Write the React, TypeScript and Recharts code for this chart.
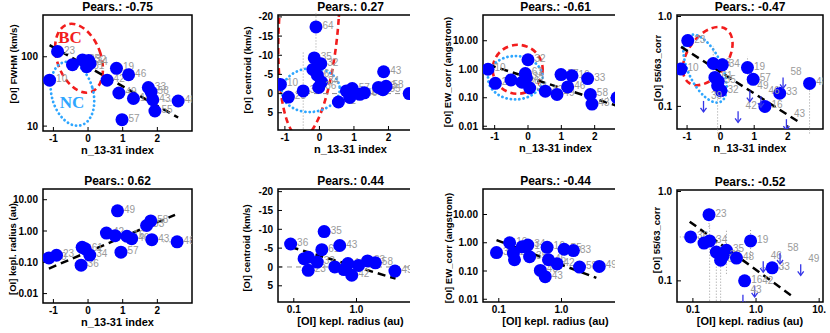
import React from 'react';
import {
  ScatterChart,
  Scatter,
  XAxis,
  YAxis,
  ReferenceArea,
  ReferenceLine,
  ErrorBar,
} from 'recharts';

const FONT = '"Liberation Sans", Arial, Helvetica, sans-serif';
const BLUE = '#0000ff';
const LABEL_GREY = '#9a9a9a';

type Pt = { id: string; x: number; y: number; ex?: number[]; ey?: number[] };
type Ell = { x1: number; x2: number; y1: number; y2: number; rot: number; kind: 'BC' | 'NC' };

// ---- data ----
const indexTicks = [-1, 0, 1, 2];
const radiusTicks = [0.1, 1, 10];
const centroidTicks = [-20, -15, -10, -5, 0, 5];
const fwhmTicks = [10, 100];
const ewTicks = [0.01, 0.1, 1, 10];
const ratioTicks = [0.1, 1];
const radiusYTicks = [0.01, 0.1, 1, 10];

const titles = ['Pears.: -0.75', 'Pears.: 0.27', 'Pears.: -0.61', 'Pears.: -0.47', 'Pears.: 0.62', 'Pears.: 0.44', 'Pears.: -0.44', 'Pears.: -0.52'];

const fwhmVsIndex: Pt[] = [
  { id: '10', x: -1.11, y: 46 },
  { id: '23', x: -0.88, y: 119 },
  { id: '', x: -0.45, y: 77 },
  { id: '35', x: -0.16, y: 90 },
  { id: '32', x: 0.02, y: 88 },
  { id: '61', x: -0.04, y: 72 },
  { id: '34', x: 0.06, y: 80 },
  { id: '42', x: 0.55, y: 46 },
  { id: '19', x: 0.82, y: 68 },
  { id: '46', x: 1.17, y: 55 },
  { id: '49', x: 0.89, y: 30 },
  { id: '16', x: 1.31, y: 25 },
  { id: '33', x: 1.74, y: 36 },
  { id: '58', x: 1.82, y: 31 },
  { id: '43', x: 1.87, y: 24 },
  { id: '55', x: 1.93, y: 16.5 },
  { id: '48', x: 2.6, y: 23, ex: [0.4, 0] },
  { id: '57', x: 0.98, y: 12.4 },
];

const centroidVsIndex: Pt[] = [
  { id: '10', x: -1.13, y: -2.4 },
  { id: '23', x: -0.9, y: 0.9 },
  { id: '39', x: -0.47, y: -0.7, ey: [10, 10] },
  { id: '64', x: -0.1, y: -17.4, ey: [3.5, 6] },
  { id: '35', x: -0.15, y: -9.3 },
  { id: '32', x: 0.04, y: -7.8 },
  { id: '', x: -0.19, y: -6.3 },
  { id: '61', x: -0.06, y: -4.8 },
  { id: '34', x: 0.06, y: -3.0 },
  { id: '36', x: -0.02, y: -1.6 },
  { id: '42', x: 0.55, y: 2.2 },
  { id: '', x: 0.78, y: -0.7 },
  { id: '57', x: 0.95, y: -1.3 },
  { id: '49', x: 0.88, y: 1.0 },
  { id: '46', x: 1.17, y: 0.2 },
  { id: '16', x: 1.3, y: -0.2 },
  { id: '33', x: 1.71, y: -1.6 },
  { id: '43', x: 1.86, y: -5.7 },
  { id: '55', x: 1.84, y: -1.0 },
  { id: '58', x: 1.93, y: -1.9 },
  { id: '48', x: 2.6, y: 0 },
];

const ewVsIndex: Pt[] = [
  { id: '10', x: -1.2, y: 1.0 },
  { id: '23', x: -0.98, y: 0.32 },
  { id: '39', x: -0.51, y: 0.42 },
  { id: '36', x: -0.18, y: 0.35 },
  { id: '61', x: -0.08, y: 0.71 },
  { id: '32', x: 0.0, y: 2.15 },
  { id: '35', x: -0.05, y: 0.5 },
  { id: '34', x: 0.05, y: 0.22 },
  { id: '42', x: 0.52, y: 0.17 },
  { id: '49', x: 0.87, y: 0.13 },
  { id: '57', x: 0.99, y: 0.65 },
  { id: '16', x: 1.32, y: 0.59 },
  { id: '46', x: 1.19, y: 0.24 },
  { id: '33', x: 1.79, y: 0.47 },
  { id: '58', x: 1.87, y: 0.13 },
  { id: '43', x: 1.92, y: 0.06 },
  { id: '48', x: 2.67, y: 0.1, ex: [0.3, 0] },
];

const ratioVsIndex: Pt[] = [
  { id: '23', x: -0.98, y: 0.54 },
  { id: '10', x: -1.18, y: 0.26 },
  { id: '36', x: -0.22, y: 0.3, ey: [0.1, 0.17] },
  { id: '34', x: 0.05, y: 0.29 },
  { id: '61', x: -0.17, y: 0.21 },
  { id: '35', x: -0.07, y: 0.19 },
  { id: '', x: -0.09, y: 0.17, ey: [0.12, 0.05] },
  { id: '32', x: 0.01, y: 0.15 },
  { id: '19', x: 0.8, y: 0.27, ey: [0.09, 0.09] },
  { id: '57', x: 0.97, y: 0.2 },
  { id: '33', x: 1.76, y: 0.14 },
  { id: '16', x: 1.32, y: 0.1 },
  { id: '48', x: 2.65, y: 0.18, ey: [0.13, 0.03] },
];
const ratioVsIndexLimits: Pt[] = [
  { id: '39', x: -0.51, y: 0.115 },
  { id: '42', x: 0.52, y: 0.088 },
  { id: '49', x: 0.87, y: 0.15 },
  { id: '46', x: 1.2, y: 0.13 },
  { id: '58', x: 1.86, y: 0.21 },
  { id: '43', x: 1.96, y: 0.072 },
];

const radiusVsIndex: Pt[] = [
  { id: '10', x: -1.13, y: 0.138 },
  { id: '23', x: -0.91, y: 0.168 },
  { id: '36', x: -0.2, y: 0.081 },
  { id: '', x: -0.17, y: 0.3 },
  { id: '61', x: -0.08, y: 0.27 },
  { id: '34', x: 0.05, y: 0.17 },
  { id: '42', x: 0.53, y: 0.86 },
  { id: '', x: 0.78, y: 0.71 },
  { id: '49', x: 0.85, y: 4.4 },
  { id: '57', x: 0.95, y: 0.21 },
  { id: '16', x: 1.12, y: 0.68 },
  { id: '46', x: 1.26, y: 0.57 },
  { id: '33', x: 1.69, y: 1.5 },
  { id: '58', x: 1.81, y: 2.1 },
  { id: '43', x: 1.84, y: 0.53 },
  { id: '48', x: 2.57, y: 0.45, ex: [0.4, 0] },
];

const centroidVsRadius: Pt[] = [
  { id: '36', x: 0.089, y: -6.1 },
  { id: '', x: 0.146, y: -2.2 },
  { id: '', x: 0.17, y: -2.6 },
  { id: '23', x: 0.17, y: 0.9 },
  { id: '32', x: 0.237, y: -1.3 },
  { id: '61', x: 0.28, y: -4.6 },
  { id: '35', x: 0.305, y: -9.4 },
  { id: '48', x: 0.45, y: 0 },
  { id: '43', x: 0.54, y: -5.7 },
  { id: '46', x: 0.63, y: 0.7 },
  { id: '16', x: 0.73, y: -0.9 },
  { id: '42', x: 0.84, y: 2.2 },
  { id: '10', x: 1.08, y: -0.4 },
  { id: '33', x: 1.5, y: -1.6 },
  { id: '58', x: 2.0, y: -1.1 },
  { id: '49', x: 4.1, y: 1.1 },
];

const ewVsRadius: Pt[] = [
  { id: '36', x: 0.092, y: 0.45 },
  { id: '10', x: 0.149, y: 1.0 },
  { id: '23', x: 0.171, y: 0.43 },
  { id: '', x: 0.178, y: 0.25 },
  { id: '61', x: 0.236, y: 0.72 },
  { id: '34', x: 0.29, y: 0.83 },
  { id: '35', x: 0.31, y: 0.32 },
  { id: '48', x: 0.46, y: 0.105 },
  { id: '43', x: 0.55, y: 0.063 },
  { id: '16', x: 0.59, y: 0.69 },
  { id: '46', x: 0.62, y: 0.25 },
  { id: '42', x: 0.85, y: 0.18 },
  { id: '55', x: 1.1, y: 0.59 },
  { id: '33', x: 1.55, y: 0.53 },
  { id: '58', x: 1.94, y: 0.138 },
  { id: '49', x: 4.0, y: 0.145 },
];

const ratioVsRadius: Pt[] = [
  { id: '23', x: 0.18, y: 0.55, ey: [0.15, 0.1] },
  { id: '36', x: 0.092, y: 0.31, ex: [0.03, 0.05] },
  { id: '', x: 0.15, y: 0.265 },
  { id: '34', x: 0.184, y: 0.28, ey: [0.22, 0.15] },
  { id: '', x: 0.235, y: 0.21, ey: [0.15, 0.1] },
  { id: '35', x: 0.34, y: 0.22, ey: [0.1, 0.15] },
  { id: '61', x: 0.275, y: 0.17, ey: [0.11, 0.08] },
  { id: '32', x: 0.3, y: 0.19 },
  { id: '48', x: 0.49, y: 0.18 },
  { id: '19', x: 0.82, y: 0.28, ey: [0.1, 0.1] },
  { id: '16', x: 0.66, y: 0.1 },
  { id: '33', x: 1.8, y: 0.14, ex: [0.6, 1.0] },
];
const ratioVsRadiusLimits: Pt[] = [
  { id: '46', x: 1.3, y: 0.166 },
  { id: '58', x: 2.4, y: 0.205 },
  { id: '49', x: 5.1, y: 0.153 },
  { id: '42', x: 0.95, y: 0.088 },
  { id: '43', x: 0.62, y: 0.07 },
];

// fit lines [x1, y1, x2, y2]
const fits: (number[] | null)[] = [
  [-1.11, 147, 2.6, 13.3],
  null,
  [-1.2, 1.45, 2.72, 0.05],
  [-1.18, 0.46, 2.36, 0.066],
  [-1.13, 0.063, 2.51, 3.3],
  [0.089, -5.3, 4.2, 3.1],
  [0.092, 1.24, 3.6, 0.057],
  [0.089, 0.46, 3.9, 0.066],
];

const ellipses: Ell[][] = [
  [
    { x1: -0.89, x2: 0.37, y1: 29, y2: 312, rot: -20, kind: 'BC' },
    { x1: -1.05, x2: 0.15, y1: 9.9, y2: 86.7, rot: -15, kind: 'NC' },
  ],
  [
    { x1: -1.16, x2: 0.56, y1: -51.6, y2: 11.6, rot: 4, kind: 'BC' },
    { x1: -1.09, x2: 0.59, y1: -6.6, y2: 4.8, rot: -5, kind: 'NC' },
  ],
  [
    { x1: -1.06, x2: 0.44, y1: 0.138, y2: 7.2, rot: 0, kind: 'BC' },
    { x1: -1.2, x2: 0.44, y1: 0.087, y2: 2.9, rot: 0, kind: 'NC' },
  ],
  [
    { x1: -0.98, x2: 0.21, y1: 0.157, y2: 0.838, rot: 35, kind: 'BC' },
    { x1: -0.965, x2: 0.035, y1: 0.103, y2: 0.673, rot: -25, kind: 'NC' },
  ],
  [], [], [], [],
];

// ---- formatting ----
const fmtPlain = (v: number) => String(v);
const fmt2 = (v: number) => v.toFixed(2);
const fmt1 = (v: number) => v.toFixed(1);
const fmtRadius = (v: number) => (v >= 10 ? '10.' : v.toFixed(1));

const IDX_DOMAIN = [-1.3, 3.0];
const RAD_DOMAIN = [0.056, 11.5];

const panels = [
  { cell: [0, 0, 205, 165], plot: [43, 15, 192, 131], data: fwhmVsIndex, xDomain: IDX_DOMAIN, xLog: false, xTicks: indexTicks, xFmt: fmtPlain,
    yDomain: [8.5, 400], yLog: true, yTicks: fwhmTicks, yFmt: fmtPlain, yTitle: '[OI] FWHM (km/s)', xTitle: 'n_13-31 index', yt: [14, 64] },
  { cell: [205, 0, 205, 165], plot: [278, 15, 423, 130], data: centroidVsIndex, xDomain: [-1.2, 3.0], xLog: false, xTicks: indexTicks, xFmt: fmtPlain,
    yDomain: [-20.5, 9.5], yLog: false, reversed: true, zero: true, yTicks: centroidTicks, yFmt: fmtPlain, yTitle: '[OI] centroid (km/s)', xTitle: 'n_13-31 index', yt: [248, 70] },
  { cell: [410, 0, 205, 165], plot: [483, 15, 628, 129], data: ewVsIndex, xDomain: [-1.35, 3.0], xLog: false, xTicks: indexTicks, xFmt: fmtPlain,
    yDomain: [0.008, 80], yLog: true, yTicks: ewTicks, yFmt: fmt2, yTitle: '[OI] EW_corr (angstrom)', xTitle: 'n_13-31 index', yt: [448, 72] },
  { cell: [615, 0, 215, 165], plot: [677, 15, 823, 129], data: ratioVsIndex, limits: ratioVsIndexLimits, xDomain: [-1.3, 3.05], xLog: false, xTicks: indexTicks, xFmt: fmtPlain,
    yDomain: [0.056, 1.04], yLog: true, yTicks: ratioTicks, yFmt: fmt1, yTitle: '[OI] 55/63_corr', xTitle: 'n_13-31 index', yt: [658, 68] },
  { cell: [0, 165, 205, 168], plot: [43, 189, 192, 303], data: radiusVsIndex, xDomain: IDX_DOMAIN, xLog: false, xTicks: indexTicks, xFmt: fmtPlain,
    yDomain: [0.005, 22], yLog: true, yTicks: radiusYTicks, yFmt: fmt2, yTitle: '[OI] kepl. radius (au)', xTitle: 'n_13-31 index', yt: [13, 249] },
  { cell: [205, 165, 205, 168], plot: [278, 189, 423, 302], data: centroidVsRadius, xDomain: RAD_DOMAIN, xLog: true, xTicks: radiusTicks, xFmt: fmtRadius,
    yDomain: [-20.7, 9.3], yLog: false, reversed: true, zero: true, yTicks: centroidTicks, yFmt: fmtPlain, yTitle: '[OI] centroid (km/s)', xTitle: '[OI] kepl. radius (au)', yt: [247, 248] },
  { cell: [410, 165, 205, 168], plot: [483, 189, 628, 302], data: ewVsRadius, xDomain: RAD_DOMAIN, xLog: true, xTicks: radiusTicks, xFmt: fmtRadius,
    yDomain: [0.008, 80], yLog: true, yTicks: ewTicks, yFmt: fmt2, yTitle: '[OI] EW_corr (angstrom)', xTitle: '[OI] kepl. radius (au)', yt: [449, 248] },
  { cell: [615, 165, 215, 168], plot: [677, 190, 823, 302], data: ratioVsRadius, limits: ratioVsRadiusLimits, xDomain: RAD_DOMAIN, xLog: true, xTicks: radiusTicks, xFmt: fmtRadius,
    yDomain: [0.058, 1.04], yLog: true, yTicks: ratioTicks, yFmt: fmt1, yTitle: '[OI] 55/63_corr', xTitle: '[OI] kepl. radius (au)', yt: [657, 240] },
];

// ---- shapes ----
const pointLabel = (cx: number, cy: number, id: string) =>
  id ? (
    <text x={cx + 6.5} y={cy + 2} fontSize={10} fill={LABEL_GREY} fontFamily={FONT}>
      {id}
    </text>
  ) : null;

function DotShape(props: any) {
  const { cx, cy, payload } = props;
  if (cx == null || cy == null) return <g />;
  return (
    <g>
      <circle cx={cx} cy={cy} r={6.5} fill={BLUE} />
      {pointLabel(cx, cy, payload?.id)}
    </g>
  );
}

function ArrowShape(props: any) {
  const { cx, cy, payload } = props;
  if (cx == null || cy == null) return <g />;
  return (
    <g stroke="#3535e8" strokeWidth={1.3} fill="none">
      <line x1={cx} y1={cy} x2={cx} y2={cy + 11} />
      <path d={`M${cx - 3},${cy + 7} L${cx},${cy + 11} L${cx + 3},${cy + 7}`} />
      <g stroke="none">{pointLabel(cx + 1, cy - 4, payload?.id)}</g>
    </g>
  );
}

// ellipse drawn inside the box that the axis scales give, clipped to the plot frame
const ellipseShape = (e: Ell, clipId: string) => (p: any) => {
  const { x, y, width, height } = p;
  const cx = x + width / 2;
  const cy = y + height / 2;
  const isBC = e.kind === 'BC';
  return (
    <g clipPath={`url(#${clipId})`}>
      <ellipse
        cx={cx}
        cy={cy}
        rx={Math.abs(width / 2)}
        ry={Math.abs(height / 2)}
        fill="none"
        stroke={isBC ? '#f21d1d' : '#2ea6ff'}
        strokeWidth={isBC ? 2.6 : 2.8}
        strokeDasharray={isBC ? '6 4' : '0.1 4.2'}
        strokeLinecap={isBC ? 'butt' : 'round'}
        transform={`rotate(${e.rot} ${cx} ${cy})`}
      />
    </g>
  );
};

const tickStyle = { fontSize: 10, fontWeight: 'bold', fill: '#000', fontFamily: FONT };

function Panel({ c, i }: { c: any; i: number }) {
  const [cl, ct, cw, ch] = c.cell;
  const [pl, pt, pr, pb] = c.plot;
  const YW = 30;
  const XH = 30;
  const margin = { left: pl - cl - YW, top: pt - ct - 1, right: cl + cw - pr - 1, bottom: ct + ch - pb - XH };
  const fit = fits[i];
  const clipId = `ell-clip-${i}`;
  const titleStyle: React.CSSProperties = {
    position: 'absolute', width: 200, textAlign: 'center', fontFamily: FONT, color: '#000', whiteSpace: 'nowrap',
  };
  return (
    <>
      <div style={{ position: 'absolute', left: cl, top: ct }}>
        <ScatterChart width={cw} height={ch} margin={margin}>
          <defs>
            <clipPath id={clipId}>
              <rect x={pl - cl} y={pt - ct} width={pr - pl} height={pb - pt} />
            </clipPath>
          </defs>
          <XAxis
            type="number"
            dataKey="x"
            scale={c.xLog ? 'log' : 'linear'}
            domain={c.xDomain}
            ticks={c.xTicks}
            tickFormatter={c.xFmt}
            allowDataOverflow
            interval={0}
            axisLine={false}
            tickLine={{ stroke: '#000', strokeWidth: 1 }}
            tickSize={-4}
            tickMargin={8}
            height={XH}
            tick={tickStyle}
          />
          <XAxis
            xAxisId="top"
            orientation="top"
            type="number"
            scale={c.xLog ? 'log' : 'linear'}
            domain={c.xDomain}
            ticks={c.xTicks}
            allowDataOverflow
            interval={0}
            axisLine={false}
            tickLine={{ stroke: '#000', strokeWidth: 1 }}
            tickSize={-4}
            height={1}
            tick={false}
          />
          <YAxis
            type="number"
            dataKey="y"
            scale={c.yLog ? 'log' : 'linear'}
            domain={c.yDomain}
            reversed={!!c.reversed}
            ticks={c.yTicks}
            tickFormatter={c.yFmt}
            allowDataOverflow
            interval={0}
            axisLine={false}
            tickLine={{ stroke: '#000', strokeWidth: 1 }}
            tickSize={-4}
            tickMargin={9}
            width={YW}
            tick={tickStyle}
          />
          <YAxis
            yAxisId="right"
            orientation="right"
            type="number"
            scale={c.yLog ? 'log' : 'linear'}
            domain={c.yDomain}
            reversed={!!c.reversed}
            ticks={c.yTicks}
            allowDataOverflow
            interval={0}
            axisLine={false}
            tickLine={{ stroke: '#000', strokeWidth: 1 }}
            tickSize={-4}
            width={1}
            tick={false}
          />
          {c.zero && <ReferenceLine y={0} stroke="#8c8c8c" strokeDasharray="5 4" strokeWidth={1} />}
          {ellipses[i].map((e, k) => (
            <ReferenceArea key={k} x1={e.x1} x2={e.x2} y1={e.y1} y2={e.y2} ifOverflow="visible" shape={ellipseShape(e, clipId)} />
          ))}
          <Scatter data={c.data} isAnimationActive={false} shape={DotShape}>
            <ErrorBar dataKey="ey" direction="y" width={0} stroke="#9a9a9a" strokeWidth={1} strokeDasharray="1 2" />
            <ErrorBar dataKey="ex" direction="x" width={0} stroke="#9a9a9a" strokeWidth={1} strokeDasharray="1 2" />
          </Scatter>
          {c.limits && <Scatter data={c.limits} isAnimationActive={false} shape={ArrowShape} />}
          {fit && (
            <ReferenceLine
              segment={[{ x: fit[0], y: fit[1] }, { x: fit[2], y: fit[3] }]}
              stroke="#000"
              strokeWidth={2.5}
              strokeDasharray="8 5"
              ifOverflow="hidden"
            />
          )}
          <ReferenceArea
            x1={c.xDomain[0]}
            x2={c.xDomain[1]}
            y1={c.yDomain[0]}
            y2={c.yDomain[1]}
            fill="none"
            stroke="#000"
            strokeWidth={1.5}
            ifOverflow="visible"
          />
        </ScatterChart>
      </div>
      <div style={{ ...titleStyle, left: (pl + pr) / 2 - 100, top: pt - 15, fontSize: 12, fontWeight: 'bold', lineHeight: '14px' }}>
        {titles[i]}
      </div>
      <div style={{ ...titleStyle, left: (pl + pr) / 2 - 100, top: pb + 12, fontSize: 11, fontWeight: 'bold', lineHeight: '14px' }}>
        {c.xTitle}
      </div>
      <div
        style={{
          ...titleStyle,
          left: c.yt[0] - 100,
          top: c.yt[1] - 7,
          fontSize: 9.5,
          fontWeight: 'bold',
          lineHeight: '14px',
          transform: 'rotate(-90deg)',
        }}
      >
        {c.yTitle}
      </div>
    </>
  );
}

export default function App() {
  return (
    <div style={{ position: 'absolute', left: 0, top: 0, width: 830, height: 333, background: '#fff', overflow: 'hidden' }}>
      {panels.map((c, i) => (
        <Panel key={i} c={c} i={i} />
      ))}
      <div style={{ position: 'absolute', left: 55, top: 28, width: 30, textAlign: 'center', fontFamily: '"Liberation Serif", "Times New Roman", serif', fontWeight: 'bold', fontSize: 17, color: '#f21d1d', lineHeight: '20px' }}>
        BC
      </div>
      <div style={{ position: 'absolute', left: 57, top: 93, width: 30, textAlign: 'center', fontFamily: '"Liberation Serif", "Times New Roman", serif', fontWeight: 'bold', fontSize: 17, color: '#2ea6ff', lineHeight: '20px' }}>
        NC
      </div>
    </div>
  );
}
